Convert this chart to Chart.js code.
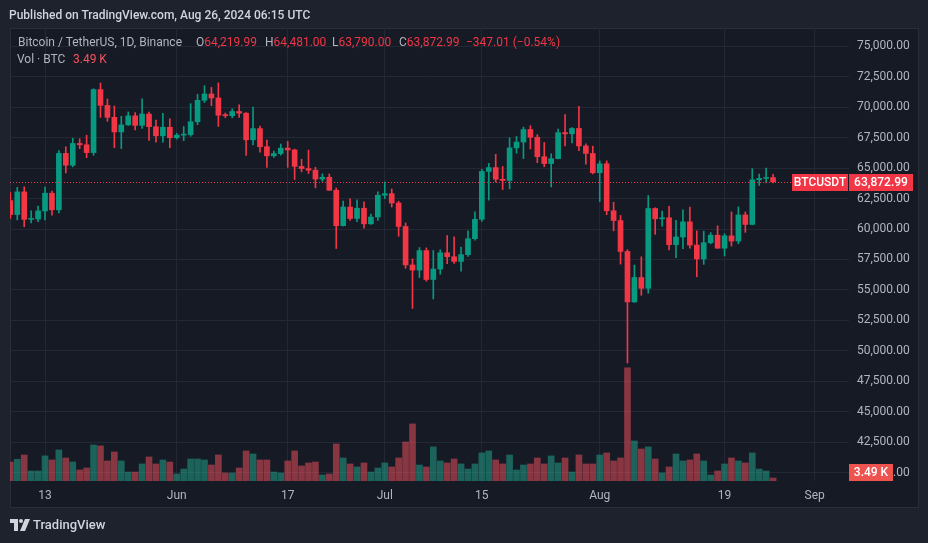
<!DOCTYPE html>
<html>
<head>
<meta charset="utf-8">
<script src="https://cdn.jsdelivr.net/npm/chart.js@4.4.1/dist/chart.umd.min.js"></script>
<style>
  body { margin: 0; background: #1e222d; font-family: Roboto, "Noto Sans", sans-serif; }
  #wrap { position: relative; width: 928px; height: 543px; overflow: hidden; }
  #pane { position: absolute; left: 10px; top: 28px; width: 909px; height: 480px; background: #161a25; border: 1px solid #2a2e39; box-sizing: border-box; }
  #chart { position: absolute; left: 0; top: 0; }
  .txt { position: absolute; white-space: nowrap; font-size: 12px; line-height: 14px; color: #b2b5be; }
  .red { color: #f23645; }
  .vred { color: #f7525f; }
</style>
</head>
<body>
<div id="wrap">
  <div id="pane"></div>
  <canvas id="chart" width="928" height="543"></canvas>
  <div class="txt" style="left:9px; top:8px; color:#d1d4dc; font-weight:500;">Published on TradingView.com, Aug 26, 2024 06:15 UTC</div>
  <div id="legend"></div>
  <div class="txt" style="left:17px; top:52px;">Vol · BTC</div>
  <div class="txt vred" id="volText" style="left:73px; top:52px;"></div>
  <svg style="position:absolute; left:10px; top:519px;" width="20" height="12" viewBox="0 0 20 12">
    <path d="M0 0h8v12h-4v-8h-4z" fill="#d1d4dc"/>
    <circle cx="11" cy="2" r="2" fill="#d1d4dc"/>
    <path d="M15 0h5l-5 12h-5z" fill="#d1d4dc"/>
  </svg>
  <div class="txt" style="left:33px; top:518px; font-size:13px; color:#d1d4dc; font-weight:500;">TradingView</div>
</div>
<script>
'use strict';

// Daily candles BTC/USDT (Binance), first candle is May 8 2024
const firstDay = '2024-05-08';

const opens = [
  62332, 61187, 63050, 60793, 60825, 61484, 62940, 61577, 66206, 65235, 67024, 66915, 66274, 71446, 70148, 69166, 67969, 68549, 69290, 68507, 69436, 68398, 67652, 68353,
  67491, 67706, 67751, 68804, 70567, 71082, 70757, 69342, 69305, 69648, 69508, 67321, 68243, 66756, 66011, 66191, 66639, 66490, 65140, 64960, 64829, 64096, 64252, 63180, 60277, 61806, 60864, 61707, 60427, 60986,
  62772, 62900, 62135, 60208, 57050, 56628, 58231, 55857, 56714, 58050, 57725, 57340, 57899, 59204, 60798, 64724, 65043, 64087, 63987, 66660, 67139, 68166, 67532, 65936, 65372, 65778, 67911, 67813, 68255, 66819, 66201,
  64620, 65354, 61498, 60697, 58161, 54018, 56022, 55134, 61685, 60837, 60923, 58712, 59346, 60587, 58683, 57541, 58874, 59491, 58427, 59438, 59013, 61156, 60375, 64038, 64157, 64219.99
];
const highs = [
  62986, 63421, 63469, 61490, 61888, 63450, 63118, 66444, 66752, 67451, 67400, 67700, 71515, 71980, 70666, 70096, 69250, 69610, 69562, 70687, 69591, 68935, 69500, 69044,
  67860, 68409, 70288, 71063, 71758, 71625, 71997, 69524, 69864, 70195, 69557, 69999, 68449, 67294, 66402, 66978, 67188, 66556, 65727, 66482, 65066, 64526, 64523, 63369, 62293, 62480, 62389, 62225, 61224, 63058,
  63861, 63288, 62285, 60499, 57546, 58475, 58449, 58236, 58296, 59470, 59359, 58526, 59850, 61421, 64900, 65388, 66128, 65133, 67487, 67598, 68366, 68480, 67750, 67102, 66175, 68200, 69400, 68319, 70079, 66987, 66800,
  65593, 65596, 62198, 61117, 58305, 57040, 57716, 62745, 61744, 61470, 61858, 60711, 61578, 61800, 59849, 59817, 59700, 60263, 59617, 61400, 61820, 61400, 64955, 64513, 65000, 64481
];
const lows = [
  60877, 60750, 60187, 60492, 60610, 60750, 61142, 61330, 64603, 65107, 66600, 65857, 66060, 69162, 68843, 66670, 66600, 68500, 68128, 68250, 67278, 67124, 67128, 66670,
  67387, 67257, 67613, 68567, 70383, 70119, 68420, 69143, 69126, 69160, 66051, 66902, 66304, 65056, 65871, 66060, 65059, 64066, 64693, 64559, 63379, 63909, 63179, 58402, 60239, 60712, 60606, 60063, 60383, 60712,
  62497, 61807, 59400, 56771, 53485, 56018, 55724, 54260, 56289, 57157, 57178, 56542, 57757, 59078, 60632, 62373, 63854, 63238, 63300, 66222, 65777, 66573, 65441, 65111, 63456, 65754, 66819, 67066, 66428, 65323, 64527,
  62248, 61180, 59850, 57122, 49000, 53973, 54560, 54730, 59566, 60242, 58286, 57642, 58392, 58433, 56078, 57099, 58786, 58400, 57787, 58600, 58783, 59724, 60342, 63574, 63774, 63790
];
const closes = [
  61187, 63050, 60793, 60825, 61484, 62940, 61577, 66206, 65235, 67024, 66915, 66274, 71446, 70148, 69166, 67969, 68549, 69290, 68507, 69436, 68398, 67652, 68353, 67491,
  67706, 67751, 68804, 70567, 71082, 70757, 69342, 69305, 69648, 69508, 67321, 68243, 66756, 66011, 66191, 66639, 66490, 65140, 64960, 64829, 64096, 64252, 63180, 60277, 61806, 60864, 61707, 60427, 60986, 62772,
  62900, 62135, 60208, 57050, 56628, 58231, 55857, 56714, 58050, 57725, 57340, 57899, 59204, 60798, 64724, 65043, 64087, 63987, 66660, 67139, 68166, 67532, 65936, 65372, 65778, 67911, 67813, 68255, 66819, 66201, 64620,
  65354, 61498, 60697, 58161, 54018, 56022, 55134, 61685, 60837, 60923, 58712, 59346, 60587, 58683, 57541, 58874, 59491, 58427, 59438, 59013, 61156, 60375, 64038, 64157, 64220, 63872.99
];
// volume in thousands of BTC
const volumes = [
  22.2, 25.4, 30.4, 11.7, 11.7, 29.3, 24.6, 36.3, 26.9, 22.2, 12.9, 15.2, 42.1, 41.0, 23.4, 33.9, 23.4, 10.5, 10.5, 19.9, 28.1, 19.9, 24.6, 22.2,
  8.2, 14.0, 25.7, 25.7, 24.6, 18.7, 30.4, 9.4, 9.4, 15.2, 35.1, 31.6, 24.6, 24.6, 10.5, 9.4, 23.4, 35.1, 17.6, 21.1, 22.2, 7.0, 8.2, 43.3, 26.9, 19.9, 16.4, 21.1, 10.5, 15.2,
  21.1, 16.4, 26.9, 45.6, 66.7, 18.7, 16.4, 39.8, 23.4, 21.1, 25.7, 19.9, 14.0, 19.9, 32.8, 35.1, 24.6, 19.9, 30.4, 12.9, 18.7, 19.9, 26.9, 19.9, 29.3, 21.1, 26.9, 10.5, 30.4, 19.9, 19.9,
  30.4, 32.8, 23.4, 26.9, 132.2, 46.8, 37.4, 39.8, 25.7, 9.4, 16.4, 31.6, 23.4, 24.6, 31.6, 23.4, 7.0, 11.7, 19.9, 26.9, 23.4, 21.1, 32.8, 14.0, 11.7, 3.49
];

// time axis: day index (from firstDay) and its label
const tickDays = [5, 24, 40, 54, 68, 85, 103, 116];
const tickLabels = ['13', 'Jun', '17', 'Jul', '15', 'Aug', '19', 'Sep'];
const priceTicks = [40000, 42500, 45000, 47500, 50000, 52500, 55000, 57500, 60000, 62500, 65000, 67500, 70000, 72500, 75000];

const UP = '#089981';
const DOWN = '#f23645';
const VOL_UP = 'rgba(34, 171, 148, 0.5)';
const VOL_DOWN = 'rgba(247, 82, 95, 0.5)';
const GRID = '#242834';

function fmt(v) {
  return v.toLocaleString('en-US', { minimumFractionDigits: 2, maximumFractionDigits: 2 });
}

let wickData = [];
let bodyData = [];
let volData = [];
let candleColors = [];
let volColors = [];
for (let i = 0; i < opens.length; i++) {
  let up = closes[i] >= opens[i];
  wickData.push({ x: i, y: [lows[i], highs[i]] });
  bodyData.push({ x: i, y: [Math.min(opens[i], closes[i]), Math.max(opens[i], closes[i])] });
  volData.push({ x: i, y: volumes[i] });
  candleColors.push(up ? UP : DOWN);
  volColors.push(up ? VOL_UP : VOL_DOWN);
}

let last = opens.length - 1;
let lastClose = closes[last];
let change = lastClose - closes[last - 1];

// legend row on top left
let legendParts = [
  ['Bitcoin / TetherUS, 1D, Binance', 18, ''],
  ['O<span class="red">' + fmt(opens[last]) + '</span>', 196, ''],
  ['H<span class="red">' + fmt(highs[last]) + '</span>', 265, ''],
  ['L<span class="red">' + fmt(lows[last]) + '</span>', 332, ''],
  ['C<span class="red">' + fmt(lastClose) + '</span>', 399, ''],
  ['\u2212' + fmt(Math.abs(change)) + ' (\u2212' + (Math.abs(change) / closes[last - 1] * 100).toFixed(2) + '%)', 466, 'red']
];
let legendHtml = '';
for (let i = 0; i < legendParts.length; i++) {
  legendHtml += '<div class="txt ' + legendParts[i][2] + '" style="left:' + legendParts[i][1] + 'px; top:35px;">' + legendParts[i][0] + '</div>';
}
document.getElementById('legend').innerHTML = legendHtml;
document.getElementById('volText').textContent = volumes[last].toFixed(2) + ' K';

function badge(ctx, text, x, y, w, color) {
  ctx.fillStyle = color;
  ctx.fillRect(x, y - 8, w, 17);
  ctx.fillStyle = '#ffffff';
  ctx.font = '500 12px Roboto';
  ctx.textAlign = 'center';
  ctx.textBaseline = 'middle';
  ctx.fillText(text, x + w / 2, y + 1);
}

const priceLine = {
  id: 'priceLine',
  afterDatasetsDraw(chart) {
    let ctx = chart.ctx;
    let area = chart.chartArea;
    let y = Math.round(chart.scales.y.getPixelForValue(lastClose)) + 0.5;
    ctx.save();
    ctx.strokeStyle = DOWN;
    ctx.lineWidth = 1;
    ctx.setLineDash([1, 2]);
    ctx.beginPath();
    ctx.moveTo(area.left, y);
    ctx.lineTo(area.right, y);
    ctx.stroke();
    ctx.restore();
  },
  afterDraw(chart) {
    let ctx = chart.ctx;
    let area = chart.chartArea;
    ctx.save();
    let y = Math.round(chart.scales.y.getPixelForValue(lastClose));
    badge(ctx, 'BTCUSDT', area.right - 57, y, 56, DOWN);
    badge(ctx, fmt(lastClose), area.right, y, 64, DOWN);
    let vy = Math.min(Math.round(chart.scales.yVol.getPixelForValue(volumes[last])), area.bottom - 9);
    badge(ctx, volumes[last].toFixed(2) + ' K', area.right, vy, 44, '#ef5350');
    ctx.restore();
  }
};

new Chart(document.getElementById('chart'), {
  type: 'bar',
  data: {
    datasets: [
      {
        data: bodyData,
        yAxisID: 'y',
        backgroundColor: candleColors,
        barThickness: 5,
        minBarLength: 1,
        grouped: false
      },
      {
        data: wickData,
        yAxisID: 'y',
        backgroundColor: candleColors,
        barThickness: 1,
        grouped: false
      },
      {
        data: volData,
        yAxisID: 'yVol',
        backgroundColor: volColors,
        barThickness: 6,
        grouped: false
      }
    ]
  },
  options: {
    responsive: false,
    devicePixelRatio: 1,
    animation: false,
    layout: { padding: { left: 10, right: 10, top: 28, bottom: 35 } },
    plugins: { legend: { display: false }, tooltip: { enabled: false } },
    scales: {
      x: {
        type: 'linear',
        min: -0.05,
        max: 120.95,
        offset: false,
        afterFit: (s) => { s.height = 27; },
        afterBuildTicks: (s) => { s.ticks = tickDays.map((d) => ({ value: d })); },
        grid: { color: GRID, drawTicks: false, offset: false },
        border: { display: false },
        ticks: {
          autoSkip: false,
          maxRotation: 0,
          padding: 8,
          color: '#b2b5be',
          font: { family: 'Roboto', size: 12 },
          callback: (v, i) => tickLabels[i]
        }
      },
      y: {
        position: 'right',
        min: 39317,
        max: 76500,
        afterFit: (s) => { s.width = 69; },
        afterBuildTicks: (s) => { s.ticks = priceTicks.map((p) => ({ value: p })); },
        grid: { color: GRID, drawTicks: false },
        border: { display: false },
        ticks: {
          padding: 8,
          color: '#b2b5be',
          font: { family: 'Roboto', size: 12 },
          callback: (v) => fmt(v)
        }
      },
      yVol: {
        display: false,
        min: 0,
        max: 529
      }
    }
  },
  plugins: [priceLine]
});
</script>
</body>
</html>
